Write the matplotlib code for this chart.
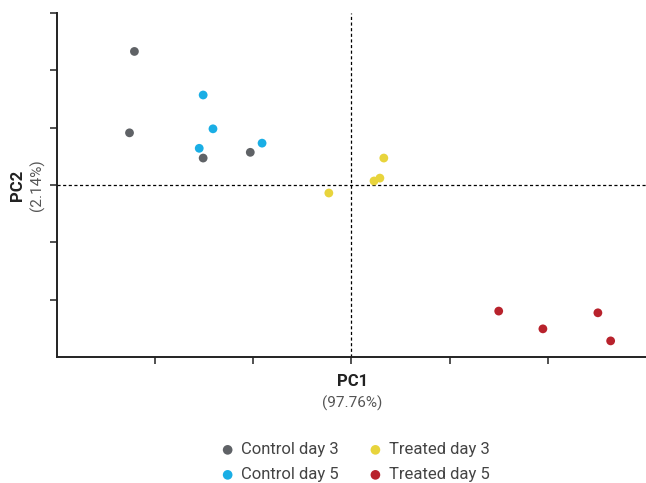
import matplotlib.pyplot as plt

plt.rcParams['font.family'] = ['Roboto', 'DejaVu Sans']

groups = ['Control day 3', 'Control day 5', 'Treated day 3', 'Treated day 5']
colors = ['#5f6266', '#1aaee5', '#e8d43c', '#b8222c']

ctrl3_x = [-2.21, -2.26, -1.51, -1.03]
ctrl3_y = [2.33, 0.91, 0.47, 0.57]
ctrl5_x = [-1.51, -1.41, -1.55, -0.91]
ctrl5_y = [1.57, 0.98, 0.64, 0.73]
treat3_x = [-0.23, 0.23, 0.29, 0.33]
treat3_y = [-0.14, 0.07, 0.12, 0.47]
treat5_x = [1.50, 1.95, 2.51, 2.64]
treat5_y = [-2.20, -2.51, -2.23, -2.72]

xs = [ctrl3_x, ctrl5_x, treat3_x, treat5_x]
ys = [ctrl3_y, ctrl5_y, treat3_y, treat5_y]

fig = plt.figure(figsize=(6.46, 4.83), dpi=100)
ax = fig.add_axes([0.088, 0.261, 0.912, 0.712])

# dashed zero lines
ax.axhline(0, color='black', linestyle=(0, (2.5, 2)), linewidth=0.9, zorder=1)
ax.axvline(0, color='black', linestyle=(0, (2.5, 2)), linewidth=0.9, zorder=1)

for g, c, x, y in zip(groups, colors, xs, ys):
    ax.scatter(x, y, s=40, color=c, label=g, edgecolors='none', zorder=3)

ax.set_xlim(-3, 3)
ax.set_ylim(-3, 3)
ax.set_xticks([-2, -1, 0, 1, 2])
ax.set_yticks([-2, -1, 0, 1, 2, 3])
ax.set_xticklabels([])
ax.set_yticklabels([])
ax.tick_params(length=5, width=1.1, color='#222222')

for side in ['top', 'right']:
    ax.spines[side].set_visible(False)
for side in ['left', 'bottom']:
    ax.spines[side].set_linewidth(1.4)
    ax.spines[side].set_color('#222222')

# axis titles
fig.text(0.545, 0.21, 'PC1', ha='center', va='center', fontsize=12,
         fontweight='bold', color='#222222')
fig.text(0.545, 0.165, '(97.76%)', ha='center', va='center', fontsize=11,
         color='#555555')
fig.text(0.027, 0.617, 'PC2', ha='center', va='center', fontsize=12,
         fontweight='bold', color='#222222', rotation=90)
fig.text(0.058, 0.617, '(2.14%)', ha='center', va='center', fontsize=11,
         color='#555555', rotation=90)

leg = fig.legend(loc='center', bbox_to_anchor=(0.55, 0.043), ncol=2,
                 frameon=False, fontsize=12, handlelength=0.8,
                 handletextpad=0.4, columnspacing=1.8, labelspacing=0.6,
                 markerscale=1.1)
for t in leg.get_texts():
    t.set_color('#444444')

fig.savefig('out.png', dpi=100)
